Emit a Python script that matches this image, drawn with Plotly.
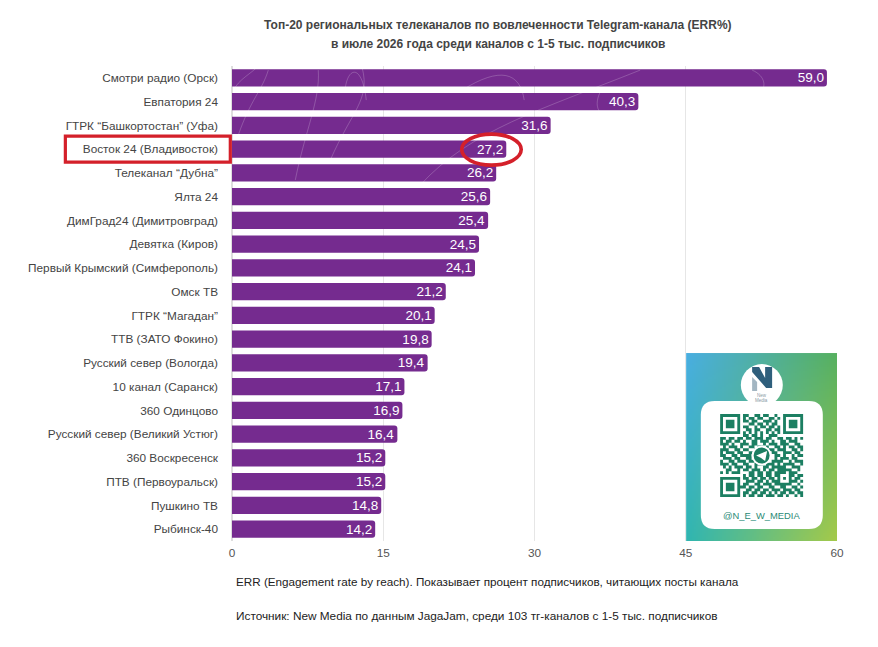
import plotly.graph_objects as go

channels = ["Смотри радио (Орск)", "Евпатория 24", "ГТРК “Башкортостан” (Уфа)", "Восток 24 (Владивосток)",
            "Телеканал “Дубна”", "Ялта 24", "ДимГрад24 (Димитровград)", "Девятка (Киров)",
            "Первый Крымский (Симферополь)", "Омск ТВ", "ГТРК “Магадан”", "ТТВ (ЗАТО Фокино)",
            "Русский север (Вологда)", "10 канал (Саранск)", "360 Одинцово", "Русский север (Великий Устюг)",
            "360 Воскресенск", "ПТВ (Первоуральск)", "Пушкино ТВ", "Рыбинск-40"]
err = [59.0, 40.3, 31.6, 27.2, 26.2, 25.6, 25.4, 24.5, 24.1, 21.2,
       20.1, 19.8, 19.4, 17.1, 16.9, 16.4, 15.2, 15.2, 14.8, 14.2]
ticks = [0, 15, 30, 45, 60]

title_1 = "Топ-20 региональных телеканалов по вовлеченности Telegram-канала (ERR%)"
title_2 = "в июле 2026 года среди каналов с 1-5 тыс. подписчиков"
note_1 = "ERR (Engagement rate by reach). Показывает процент подписчиков, читающих посты канала"
note_2 = "Источник: New Media по данным JagaJam, среди 103 тг-каналов с 1-5 тыс. подписчиков"

# QR code on the badge
qr_rows = [
    "11111110110011011001001111111", "10000010101101100110101000001",
    "10111010110110011101001011101", "10111010001101101011001011101",
    "10111010110010110110101011101", "10000010011011001101101000001",
    "11111110101010101010101111111", "00000000110110100111000000000",
    "11011011011011101100110110101", "10110110100110111010011011100",
    "11101001110110010111011100110", "01011101001101101001101011011",
    "11100110110011100110111001101", "10111011001100000011001110110",
    "11001101111000000001101001011", "01110110011000000001011101100",
    "10011011101100000011110010111", "11101100110011101110101111001",
    "01010111011010011011111001110", "00110010110111010110111110010",
    "10101110001101101101111011100", "00000000101101101101100011011",
    "11111110110110110110101010110", "10000010011101101011100011101",
    "10111010110011011101111110010", "10111011101101100110011001101",
    "10111010011011011011101110110", "10000010110110110101011011011",
    "11111110101101101110110100101",
]
# badge gradient corners
grad_tl, grad_tr = (73, 174, 224), (86, 176, 96)
grad_bl, grad_br = (47, 181, 176), (163, 201, 74)

FIG_W, FIG_H = 870, 639
OFFSET = 8  # page body margin
L, R, T, B = 231.7, 836.9, 65.9, 541.0


def px(x):
    return (x - L) / (R - L)


def py(y):
    return (B - y) / (B - T)


def text_at(x, y, text, size, color, anchor="center", weight=None):
    fig.add_annotation(text=text, xref="paper", yref="paper", x=px(x), y=py(y), xanchor=anchor, yanchor="middle",
                       showarrow=False, font=dict(size=size, color=color, weight=weight))


def path(d, **kw):
    fig.add_shape(type="path", path=d, xref="paper", yref="paper", layer="above", **kw)


def p(x, y):
    return f"{px(x):.5f},{py(y):.5f}"


def circle(cx, cy, r, color):
    fig.add_shape(type="circle", xref="paper", yref="paper", layer="above", x0=px(cx - r), x1=px(cx + r),
                  y0=py(cy + r), y1=py(cy - r), fillcolor=color, line_width=0)


fig = go.Figure()
fig.add_trace(go.Bar(
    y=channels, x=err, orientation="h",
    marker=dict(color="#752b8f", cornerradius=3, line=dict(width=0)),
    text=[f"{v:.1f}".replace(".", ",") for v in err],
    textposition="inside", insidetextanchor="end", textangle=0, constraintext="none",
    textfont=dict(family="Liberation Sans", size=13.5, color="white"),
    cliponaxis=False, showlegend=False,
))

# badge background
badge_x0, badge_x1, badge_y0, badge_y1 = 686, 837, 353, 541
nx, ny = 76, 94
grad = []
for j in range(ny):
    v = j / (ny - 1)
    row = []
    for i in range(nx):
        u = i / (nx - 1)
        row.append([round((1 - v) * ((1 - u) * a + u * b) + v * ((1 - u) * c + u * d))
                    for a, b, c, d in zip(grad_tl, grad_tr, grad_bl, grad_br)])
    grad.append(row)
fig.add_trace(go.Image(z=grad, x0=badge_x0 + 1, y0=badge_y0 + 1, dx=(badge_x1 - badge_x0) / nx,
                       dy=(badge_y1 - badge_y0) / ny, xaxis="x2", yaxis="y2", hoverinfo="skip"))

fig.update_layout(
    width=FIG_W, height=FIG_H, autosize=False,
    margin=dict(l=L - OFFSET, r=FIG_W - (R - OFFSET), t=T - OFFSET, b=FIG_H - (B - OFFSET)),
    paper_bgcolor="white", plot_bgcolor="white",
    bargap=0.27,
    font=dict(family="Liberation Sans, Arial", color="#444444", size=11.8),
    xaxis=dict(range=[0, 60], tickvals=ticks, ticks="", showgrid=True, gridcolor="#e6e6e6", gridwidth=1,
               zeroline=True, zerolinecolor="#dedede", showline=False, ticklabelstandoff=3,
               tickfont=dict(size=11.8, color="#555555")),
    yaxis=dict(autorange="reversed", ticks="", ticklen=0, ticklabelstandoff=13, showgrid=False,
               tickfont=dict(size=11.8, color="#444444")),
    xaxis2=dict(range=[L, R], overlaying="x", visible=False, anchor="y2"),
    yaxis2=dict(range=[B, T], overlaying="y", visible=False, anchor="x2"),
)

text_at(497.5, 25, title_1, 12, "#444444", weight="bold")
text_at(497.5, 43.5, title_2, 12, "#444444", weight="bold")
text_at(234, 582, note_1, 11.7, "#222222", anchor="left")
text_at(234, 616, note_2, 11.8, "#222222", anchor="left")

# faint pattern on the bars, white so it only shows on the purple
pattern = [
    [(235, 87), (242, 76), (258, 70), (262, 60)],
    [(238, 135), (250, 100), (262, 90), (268, 70)],
    [(345, 88), (348, 66), (362, 64), (366, 100)],
    [(330, 160), (352, 110), (370, 100), (362, 68)],
    [(420, 185), (470, 130), (540, 110), (640, 70)],
    [(462, 90), (500, 66), (520, 72), (524, 100)],
    [(295, 180), (305, 130), (320, 100), (318, 70)],
    [(752, 70), (766, 76), (766, 88), (760, 92)],
    [(600, 92), (596, 100), (596, 108), (600, 112)],
]
for a, b, c, d in pattern:
    path(f"M {p(*a)} C {p(*b)} {p(*c)} {p(*d)}", line=dict(color="rgba(255,255,255,0.2)", width=1))

# red highlights
fig.add_shape(type="rect", xref="paper", yref="paper", layer="above", x0=px(65), x1=px(230), y0=py(162), y1=py(136),
              line=dict(color="#d4202a", width=3.2))
fig.add_shape(type="circle", xref="paper", yref="paper", layer="above", x0=px(461.5), x1=px(521), y0=py(165), y1=py(134),
              line=dict(color="#d4202a", width=3.6))

# white card with the logo circle
card = [700.7, 822.7, 401, 529]
rc = 14
path(f"M {p(card[0] + rc, card[2])} L {p(card[1] - rc, card[2])} Q {p(card[1], card[2])} {p(card[1], card[2] + rc)} "
     f"L {p(card[1], card[3] - rc)} Q {p(card[1], card[3])} {p(card[1] - rc, card[3])} "
     f"L {p(card[0] + rc, card[3])} Q {p(card[0], card[3])} {p(card[0], card[3] - rc)} "
     f"L {p(card[0], card[2] + rc)} Q {p(card[0], card[2])} {p(card[0] + rc, card[2])} Z",
     fillcolor="white", line_width=0)
circle(761.7, 385, 21, "white")
path(f"M {p(752, 367)} L {p(759, 367)} L {p(765, 378)} L {p(765, 367)} L {p(772, 367)} L {p(772, 388)} L {p(766, 388)} L {p(752, 372)} Z",
     fillcolor="#2f5f7c", line_width=0)
path(f"M {p(752, 377)} L {p(757, 382)} L {p(757, 391)} L {p(752, 391)} Z", fillcolor="#a3b6c2", line_width=0)
text_at(761.7, 395.5, "New", 4.5, "#8a9aa4")
text_at(761.7, 400.5, "Media", 4.5, "#8a9aa4")

# QR modules
qr_x, qr_y, qr_step = 720, 414, 83 / len(qr_rows)
qr_path = []
for r, row in enumerate(qr_rows):
    for c, cell in enumerate(row):
        if cell == "1":
            x0, y0 = qr_x + c * qr_step, qr_y + r * qr_step
            x1, y1 = x0 + qr_step, y0 + qr_step
            qr_path.append(f"M {p(x0, y0)} L {p(x1, y0)} L {p(x1, y1)} L {p(x0, y1)} Z")
path(" ".join(qr_path), fillcolor="#1c7f62", line_width=0)
circle(761.5, 455.5, 10, "white")
circle(761.5, 455.5, 8, "#1c7f62")
path(f"M {p(756, 455.5)} L {p(767, 451)} L {p(765, 461)} L {p(761, 458)} Z", fillcolor="white", line_width=0)
text_at(761.5, 515, "@N_E_W_MEDIA", 9.4, "#2a8a76")

fig.write_html("out.html")
